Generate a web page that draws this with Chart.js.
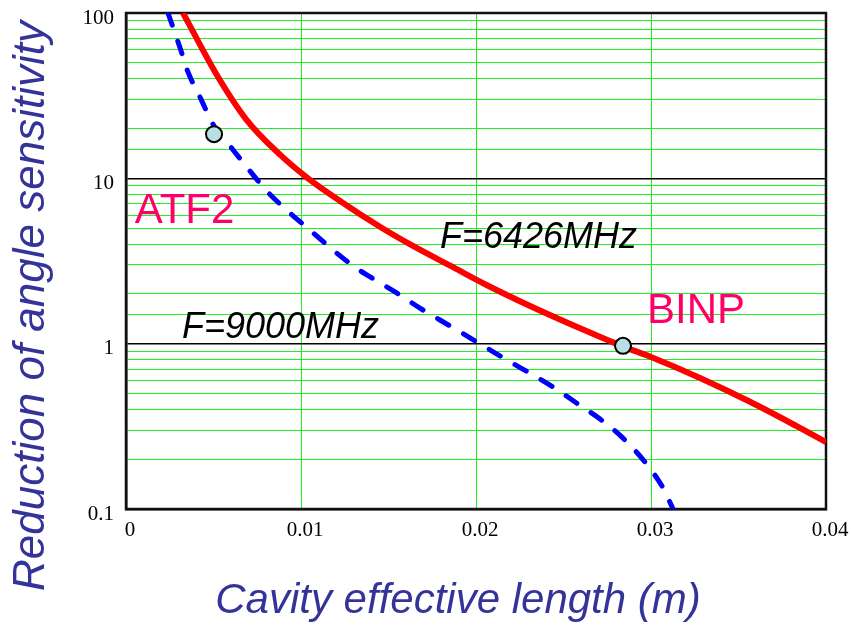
<!DOCTYPE html>
<html>
<head>
<meta charset="utf-8">
<script src="https://cdn.jsdelivr.net/npm/chart.js@4.4.0/dist/chart.umd.min.js"></script>
<style>
  body { margin: 0; background: #fff; }
</style>
</head>
<body>
<canvas id="myChart" width="851" height="626"></canvas>
<script>
// curve values (x in m, y = reduction factor)
let lengthF6426 = [0.00326, 0.0052, 0.0069, 0.0088, 0.0104, 0.01223, 0.01451, 0.0164, 0.01869, 0.02069, 0.02309, 0.02594, 0.0284, 0.03, 0.0328, 0.03566, 0.0383, 0.04];
let reductionF6426 = [100, 42, 22.5, 13.9, 10, 7.3, 5.1, 3.9, 2.9, 2.24, 1.69, 1.24, 0.962, 0.83, 0.62, 0.445, 0.318, 0.254];

let lengthF9000 = [0.0024, 0.0031, 0.00354, 0.00423, 0.005, 0.0059, 0.0069, 0.0081, 0.00937, 0.01051, 0.01183, 0.01309, 0.01423, 0.01549, 0.0168, 0.01794, 0.0192, 0.02063, 0.02206, 0.02337, 0.02451, 0.02583, 0.02709, 0.02834, 0.02966, 0.03069, 0.03126];
let reductionF9000 = [100, 61, 44, 31, 21, 15.9, 11.7, 8.26, 6.17, 4.87, 3.68, 2.9, 2.43, 2.02, 1.64, 1.39, 1.16, 0.94, 0.764, 0.637, 0.538, 0.431, 0.35, 0.272, 0.192, 0.134, 0.1];

let markerLength = [0.00503, 0.0284];
let markerReduction = [18.5, 0.97];

let xTicks = [0, 0.01, 0.02, 0.03, 0.04];
let yDecades = [0.1, 1, 10, 100];

// text placed on the plot, anchored at data coordinates (left, baseline)
let notes = [
    { text: 'ATF2', x: 0.0005, y: 5.37, font: '42px "Liberation Sans", Arial, sans-serif', color: '#ff0066' },
    { text: 'BINP', x: 0.02977, y: 1.33, font: '42px "Liberation Sans", Arial, sans-serif', color: '#ff0066' },
    { text: 'F=6426MHz', x: 0.01794, y: 3.79, font: 'italic 36px "Liberation Sans", Arial, sans-serif', color: '#000' },
    { text: 'F=9000MHz', x: 0.0032, y: 1.08, font: 'italic 36px "Liberation Sans", Arial, sans-serif', color: '#000' }
];

const toPoints = (xs, ys) => xs.map((x, i) => ({ x: x, y: ys[i] }));
const isDecade = v => yDecades.some(d => Math.abs(v - d) < d * 1e-6);

const titleColor = '#333399';
const sans = '"Liberation Sans", Arial, sans-serif';
const serif = '"Liberation Serif", "Times New Roman", serif';
const green = '#1ef01e';

const frameAndText = {
    id: 'frameAndText',
    beforeDatasetsDraw(chart) {
        const { ctx, chartArea: a } = chart;
        ctx.save();
        ctx.strokeStyle = '#111';
        ctx.lineWidth = 2.5;
        ctx.strokeRect(a.left, a.top, a.right - a.left, a.bottom - a.top);
        ctx.restore();
    },
    afterDraw(chart) {
        const { ctx } = chart;
        const xs = chart.scales.x, ys = chart.scales.y;
        ctx.save();
        ctx.textBaseline = 'alphabetic';
        ctx.textAlign = 'left';
        notes.forEach(n => {
            ctx.font = n.font;
            ctx.fillStyle = n.color;
            ctx.fillText(n.text, xs.getPixelForValue(n.x), ys.getPixelForValue(n.y));
        });

        // axis titles
        ctx.fillStyle = titleColor;
        ctx.textAlign = 'center';
        ctx.font = 'italic 42px ' + sans;
        ctx.fillText('Cavity effective length (m)', 458, 613);

        ctx.font = 'italic 44px ' + sans;
        ctx.translate(44, 306);
        ctx.rotate(-Math.PI / 2);
        ctx.fillText('Reduction of angle sensitivity', 0, 0);
        ctx.restore();
    }
};

let ctx = document.getElementById('myChart').getContext('2d');

let myChart = new Chart(ctx, {
    type: 'line',
    data: {
        datasets: [
            {
                label: 'markers',
                data: toPoints(markerLength, markerReduction),
                showLine: false,
                pointRadius: 8,
                pointBackgroundColor: 'rgb(184,224,228)',
                pointBorderColor: '#000',
                pointBorderWidth: 2
            },
            {
                label: 'F=6426MHz',
                data: toPoints(lengthF6426, reductionF6426),
                borderColor: '#ff0000',
                borderWidth: 6,
                pointRadius: 0,
                fill: false,
                cubicInterpolationMode: 'monotone'
            },
            {
                label: 'F=9000MHz',
                data: toPoints(lengthF9000, reductionF9000),
                borderColor: '#0000ff',
                borderWidth: 5,
                borderDash: [13, 17],
                borderCapStyle: 'round',
                pointRadius: 0,
                fill: false,
                cubicInterpolationMode: 'monotone'
            }
        ]
    },
    options: {
        responsive: false,
        animation: false,
        layout: { padding: { top: 13, right: 25, left: 0, bottom: 0 } },
        plugins: {
            legend: { display: false },
            tooltip: { enabled: false }
        },
        scales: {
            x: {
                type: 'linear',
                min: 0,
                max: 0.04,
                afterBuildTicks: scale => { scale.ticks = xTicks.map(v => ({ value: v })); },
                afterFit: scale => {
                    scale.height = 117;
                    scale.paddingLeft = 0;
                    scale.paddingRight = 0;
                },
                grid: { color: green, lineWidth: 1, drawTicks: false },
                border: { color: '#111', width: 2.5 },
                ticks: {
                    padding: 9,
                    labelOffset: 4,
                    color: '#000',
                    font: { family: serif, size: 21 },
                    callback: v => (v === 0 ? '0' : v.toFixed(2))
                }
            },
            y: {
                type: 'logarithmic',
                min: 0.1,
                max: 100,
                afterFit: scale => {
                    scale.width = 126;
                    scale.paddingTop = 0;
                    scale.paddingBottom = 0;
                },
                grid: {
                    drawTicks: false,
                    color: c => (isDecade(c.tick.value) ? '#000' : green),
                    lineWidth: c => (isDecade(c.tick.value) ? 1.6 : 1)
                },
                border: { color: '#111', width: 2.5 },
                ticks: {
                    autoSkip: false,
                    padding: 12,
                    labelOffset: 5,
                    color: '#000',
                    font: { family: serif, size: 21 },
                    callback: v => (isDecade(v) ? String(v) : '')
                }
            }
        }
    },
    plugins: [frameAndText]
});
</script>
</body>
</html>
